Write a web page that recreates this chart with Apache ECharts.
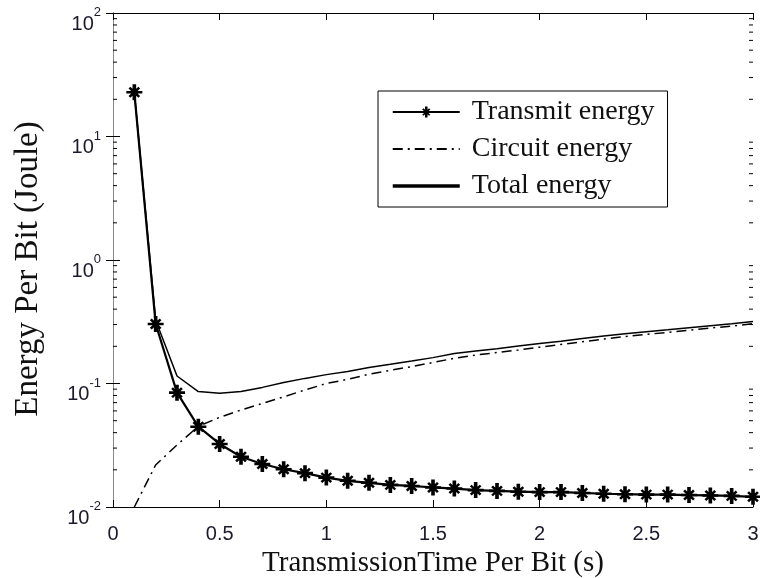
<!DOCTYPE html>
<html>
<head>
<meta charset="utf-8">
<script src="https://cdn.jsdelivr.net/npm/echarts@6/dist/echarts.min.js"></script>
<style>
  html, body { margin: 0; padding: 0; background: #fff; }
  #chart { width: 760px; height: 578px; }
</style>
</head>
<body>
<div id="chart"></div>
<script>
// transmission time per bit (s)
const times = [0.1, 0.2, 0.3, 0.4, 0.5, 0.6, 0.7, 0.8, 0.9, 1.0,
  1.1, 1.2, 1.3, 1.4, 1.5, 1.6, 1.7, 1.8, 1.9, 2.0,
  2.1, 2.2, 2.3, 2.4, 2.5, 2.6, 2.7, 2.8, 2.9, 3.0];

// energy per bit (Joule)
const transmitEnergy = [22.8, 0.303, 0.0843, 0.0447, 0.0324, 0.0255, 0.0223, 0.0202, 0.0188, 0.0173,
  0.0163, 0.0157, 0.0151, 0.0148, 0.0144, 0.0141, 0.0137, 0.0135, 0.0133, 0.0132,
  0.0132, 0.0130, 0.0128, 0.0127, 0.0126, 0.0126, 0.0125, 0.0124, 0.0123, 0.0121];
const circuitEnergy = [0.0100, 0.0219, 0.0318, 0.0450, 0.0532, 0.061, 0.069, 0.078, 0.0886, 0.100,
  0.108, 0.119, 0.128, 0.137, 0.148, 0.160, 0.170, 0.178, 0.187, 0.197,
  0.207, 0.218, 0.229, 0.240, 0.250, 0.259, 0.270, 0.281, 0.292, 0.305];
const totalEnergy = [22.8, 0.325, 0.115, 0.086, 0.0833, 0.086, 0.093, 0.102, 0.110, 0.118,
  0.125, 0.135, 0.143, 0.152, 0.162, 0.175, 0.183, 0.191, 0.201, 0.211,
  0.220, 0.231, 0.242, 0.253, 0.263, 0.272, 0.283, 0.294, 0.304, 0.318];

const seriesNames = ['Transmit energy', 'Circuit energy', 'Total energy'];

// minor log ticks: 2..9 x 10^k
const minorTicks = [];
for (let k = -2; k <= 1; k++) {
  for (let m = 2; m <= 9; m++) minorTicks.push(m * Math.pow(10, k));
}

const pair = (ys) => times.map((t, i) => [t, ys[i]]);

// matlab style asterisk marker
const star = 'path://M-1.7,-8L1.7,-8L1.7,8L-1.7,8Z' +
  'M-7.5,-1.3L7.5,-1.3L7.5,1.3L-7.5,1.3Z' +
  'M-3.75,-5.45L5.45,3.75L3.75,5.45L-5.45,-3.75Z' +
  'M-5.45,3.75L3.75,-5.45L5.45,-3.75L-3.75,5.45Z';

const serif = '"Liberation Serif", "Times New Roman", serif';
const sans = '"Liberation Sans", Arial, sans-serif';
const labelColor = '#1a1a2a';

const chart = echarts.init(document.getElementById('chart'));

chart.setOption({
  animation: false,
  backgroundColor: '#fff',
  grid: { left: 113, right: 7, top: 13, bottom: 71, outerBoundsMode: 'none' },
  legend: {
    data: [
      { name: seriesNames[0] },
      { name: seriesNames[1], itemStyle: { opacity: 0 } },
      { name: seriesNames[2], itemStyle: { opacity: 0 }, lineStyle: { width: 3.5 } }
    ],
    orient: 'vertical',
    left: 378, top: 91,
    padding: [7, 13, 7, 13],
    itemWidth: 67, itemHeight: 14, itemGap: 9,
    borderColor: '#000', borderWidth: 1, backgroundColor: '#fff',
    textStyle: { fontFamily: serif, fontSize: 28, color: '#111', lineHeight: 28, padding: [0, 0, 0, 7] }
  },
  xAxis: [{
    type: 'value', min: 0, max: 3, interval: 0.5,
    axisLine: { lineStyle: { color: '#000' } },
    axisTick: { inside: true, length: 7, lineStyle: { color: '#000' } },
    axisLabel: { fontFamily: sans, fontSize: 20, color: labelColor, margin: 17 },
    splitLine: { show: false },
    name: 'TransmissionTime Per Bit (s)', nameLocation: 'middle', nameGap: 33,
    nameTextStyle: { fontFamily: serif, fontSize: 29, color: '#111' }
  }, {
    type: 'value', min: 0, max: 3, interval: 0.5, position: 'top',
    axisLine: { lineStyle: { color: '#000' } },
    axisTick: { inside: true, length: 7, lineStyle: { color: '#000' } },
    axisLabel: { show: false }, splitLine: { show: false }
  }],
  yAxis: [{
    type: 'log', logBase: 10, min: 0.01, max: 100,
    axisLine: { show: true, lineStyle: { color: '#000' } },
    axisTick: { inside: true, length: 7, lineStyle: { color: '#000' } },
    splitLine: { show: false },
    axisLabel: {
      margin: 12, color: labelColor,
      formatter: (v) => '{b|10}{s|' + Math.round(Math.log10(v)) + '}',
      rich: {
        b: { fontFamily: sans, fontSize: 20, color: labelColor, padding: [22, 0, 0, 0] },
        s: { fontFamily: sans, fontSize: 13, color: labelColor, padding: [0, 0, 1, 0] }
      }
    },
    name: 'Energy Per Bit (Joule)', nameLocation: 'middle', nameGap: 68, nameRotate: 90,
    nameTextStyle: { fontFamily: serif, fontSize: 33, color: '#111', padding: [0, 18, 0, 0] }
  }, {
    type: 'log', logBase: 10, min: 0.01, max: 100, position: 'right',
    axisLine: { show: true, lineStyle: { color: '#888' } },
    axisTick: { inside: true, length: 7, lineStyle: { color: '#000' } },
    axisLabel: { show: false }, splitLine: { show: false }
  }],
  series: [
    {
      name: seriesNames[0], type: 'line', data: pair(transmitEnergy),
      symbol: star, symbolSize: 16, showAllSymbol: true,
      lineStyle: { color: '#000', width: 2.2 },
      itemStyle: { color: '#000' }, z: 4
    },
    {
      name: seriesNames[1], type: 'line', data: pair(circuitEnergy),
      symbol: 'none',
      lineStyle: { color: '#000', width: 1.5, type: [10, 5, 2, 5] },
      itemStyle: { color: '#000' }, z: 3
    },
    {
      name: seriesNames[2], type: 'line', data: pair(totalEnergy),
      symbol: 'none',
      lineStyle: { color: '#000', width: 1.5 },
      itemStyle: { color: '#000' }, z: 3
    },
    {
      type: 'custom', silent: true, clip: false, z: 5,
      data: minorTicks.map((v) => [0, v]),
      renderItem: (params, api) => {
        const l = api.coord([0, api.value(1)]);
        const r = api.coord([3, api.value(1)]);
        const st = { stroke: '#000', lineWidth: 1 };
        return {
          type: 'group',
          children: [
            { type: 'line', shape: { x1: l[0], y1: l[1], x2: l[0] + 4, y2: l[1] }, style: st },
            { type: 'line', shape: { x1: r[0] - 4, y1: r[1], x2: r[0], y2: r[1] }, style: st }
          ]
        };
      }
    }
  ]
});
</script>
</body>
</html>
